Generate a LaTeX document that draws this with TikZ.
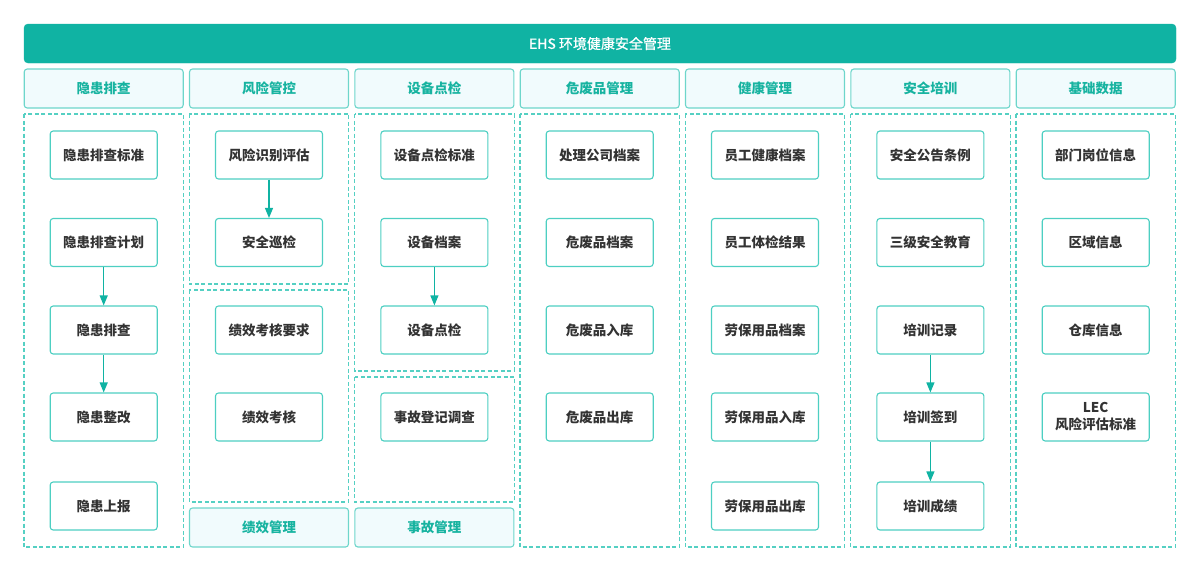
\documentclass[tikz,border=0pt]{standalone}
\usepackage{fontspec}
\setmainfont{Noto Sans CJK SC}
\newfontfamily\medfont[FakeBold=0.8]{Noto Sans CJK SC}
\usetikzlibrary{arrows.meta}
\definecolor{teal1}{HTML}{10B3A3}
\definecolor{hdrfill}{HTML}{F1FBFD}
\definecolor{hdrline}{HTML}{6ED6CB}
\definecolor{hdrtext}{HTML}{17B3A0}
\definecolor{boxline}{HTML}{4DCFC2}
\definecolor{dashline}{HTML}{55D0C3}
\definecolor{txt}{HTML}{333333}
\begin{document}
\begin{tikzpicture}[x=1pt,y=-1pt,
  titlebar/.style={fill=teal1,draw=teal1,rounded corners=4pt,minimum width=1152pt,minimum height=39pt,inner sep=0pt,text=white,font=\fontsize{14}{16}\selectfont\medfont},
  hdr/.style={fill=hdrfill,draw=hdrline,line width=1.1pt,rounded corners=3pt,minimum width=159pt,minimum height=39pt,inner sep=0pt,text=hdrtext,font=\fontsize{13.5}{15}\selectfont\bfseries},
  item/.style={draw=boxline,fill=white,line width=1.1pt,rounded corners=3pt,minimum width=107pt,minimum height=48pt,inner sep=0pt,text=txt,align=center,font=\fontsize{13.5}{16}\selectfont\bfseries},
  grp/.style={draw=dashline,line width=1.1pt,dash pattern=on 4pt off 2.5pt},
  flow/.style={draw=teal1,line width=1.1pt,-{Triangle[length=10pt,width=8pt]}}
]
\useasboundingbox (0,0) rectangle (1200,571);
\def\cw{159.4}
% column left edges
\def\xa{24}\def\xb{189.3}\def\xc{354.7}\def\xd{520}\def\xe{685.3}\def\xf{850.7}\def\xg{1016}
% title
\node[titlebar] (title) at (600,43.5) {EHS 环境健康安全管理};
% headers
\node[hdr] (h1) at (\xa+79.7,88.5) {隐患排查};
\node[hdr] (h2) at (\xb+79.7,88.5) {风险管控};
\node[hdr] (h3) at (\xc+79.7,88.5) {设备点检};
\node[hdr] (h4) at (\xd+79.7,88.5) {危废品管理};
\node[hdr] (h5) at (\xe+79.7,88.5) {健康管理};
\node[hdr] (h6) at (\xf+79.7,88.5) {安全培训};
\node[hdr] (h7) at (\xg+79.7,88.5) {基础数据};
\node[hdr] (h8) at (\xb+79.7,527.5) {绩效管理};
\node[hdr] (h9) at (\xc+79.7,527.5) {事故管理};
% dashed groups
\draw[grp] (\xa,114) rectangle (\xa+\cw,547);
\draw[grp] (\xb,114) rectangle (\xb+\cw,284);
\draw[grp] (\xb,290) rectangle (\xb+\cw,502);
\draw[grp] (\xc,114) rectangle (\xc+\cw,371);
\draw[grp] (\xc,377) rectangle (\xc+\cw,502);
\draw[grp] (\xd,114) rectangle (\xd+\cw,547);
\draw[grp] (\xe,114) rectangle (\xe+\cw,547);
\draw[grp] (\xf,114) rectangle (\xf+\cw,547);
\draw[grp] (\xg,114) rectangle (\xg+\cw,547);
% rows
\def\ra{155}\def\rb{242.5}\def\rc{330}\def\rd{417}\def\re{506}
% column 1
\node[item] (a1) at (\xa+79.7,\ra) {隐患排查标准};
\node[item] (a2) at (\xa+79.7,\rb) {隐患排查计划};
\node[item] (a3) at (\xa+79.7,\rc) {隐患排查};
\node[item] (a4) at (\xa+79.7,\rd) {隐患整改};
\node[item] (a5) at (\xa+79.7,\re) {隐患上报};
% column 2
\node[item] (b1) at (\xb+79.7,\ra) {风险识别评估};
\node[item] (b2) at (\xb+79.7,\rb) {安全巡检};
\node[item] (b3) at (\xb+79.7,\rc) {绩效考核要求};
\node[item] (b4) at (\xb+79.7,\rd) {绩效考核};
% column 3
\node[item] (c1) at (\xc+79.7,\ra) {设备点检标准};
\node[item] (c2) at (\xc+79.7,\rb) {设备档案};
\node[item] (c3) at (\xc+79.7,\rc) {设备点检};
\node[item] (c4) at (\xc+79.7,\rd) {事故登记调查};
% column 4
\node[item] (d1) at (\xd+79.7,\ra) {处理公司档案};
\node[item] (d2) at (\xd+79.7,\rb) {危废品档案};
\node[item] (d3) at (\xd+79.7,\rc) {危废品入库};
\node[item] (d4) at (\xd+79.7,\rd) {危废品出库};
% column 5
\node[item] (e1) at (\xe+79.7,\ra) {员工健康档案};
\node[item] (e2) at (\xe+79.7,\rb) {员工体检结果};
\node[item] (e3) at (\xe+79.7,\rc) {劳保用品档案};
\node[item] (e4) at (\xe+79.7,\rd) {劳保用品入库};
\node[item] (e5) at (\xe+79.7,\re) {劳保用品出库};
% column 6
\node[item] (f1) at (\xf+79.7,\ra) {安全公告条例};
\node[item] (f2) at (\xf+79.7,\rb) {三级安全教育};
\node[item] (f3) at (\xf+79.7,\rc) {培训记录};
\node[item] (f4) at (\xf+79.7,\rd) {培训签到};
\node[item] (f5) at (\xf+79.7,\re) {培训成绩};
% column 7
\node[item] (g1) at (\xg+79.7,\ra) {部门岗位信息};
\node[item] (g2) at (\xg+79.7,\rb) {区域信息};
\node[item] (g3) at (\xg+79.7,\rc) {仓库信息};
\node[item,font=\fontsize{13.5}{17}\selectfont\bfseries] (g4) at (\xg+79.7,\rd) {LEC\\风险评估标准};
% arrows
\draw[flow] (a2) -- (a3);
\draw[flow] (a3) -- (a4);
\draw[flow] (b1) -- (b2);
\draw[flow] (c2) -- (c3);
\draw[flow] (f3) -- (f4);
\draw[flow] (f4) -- (f5);
\end{tikzpicture}
\end{document}
